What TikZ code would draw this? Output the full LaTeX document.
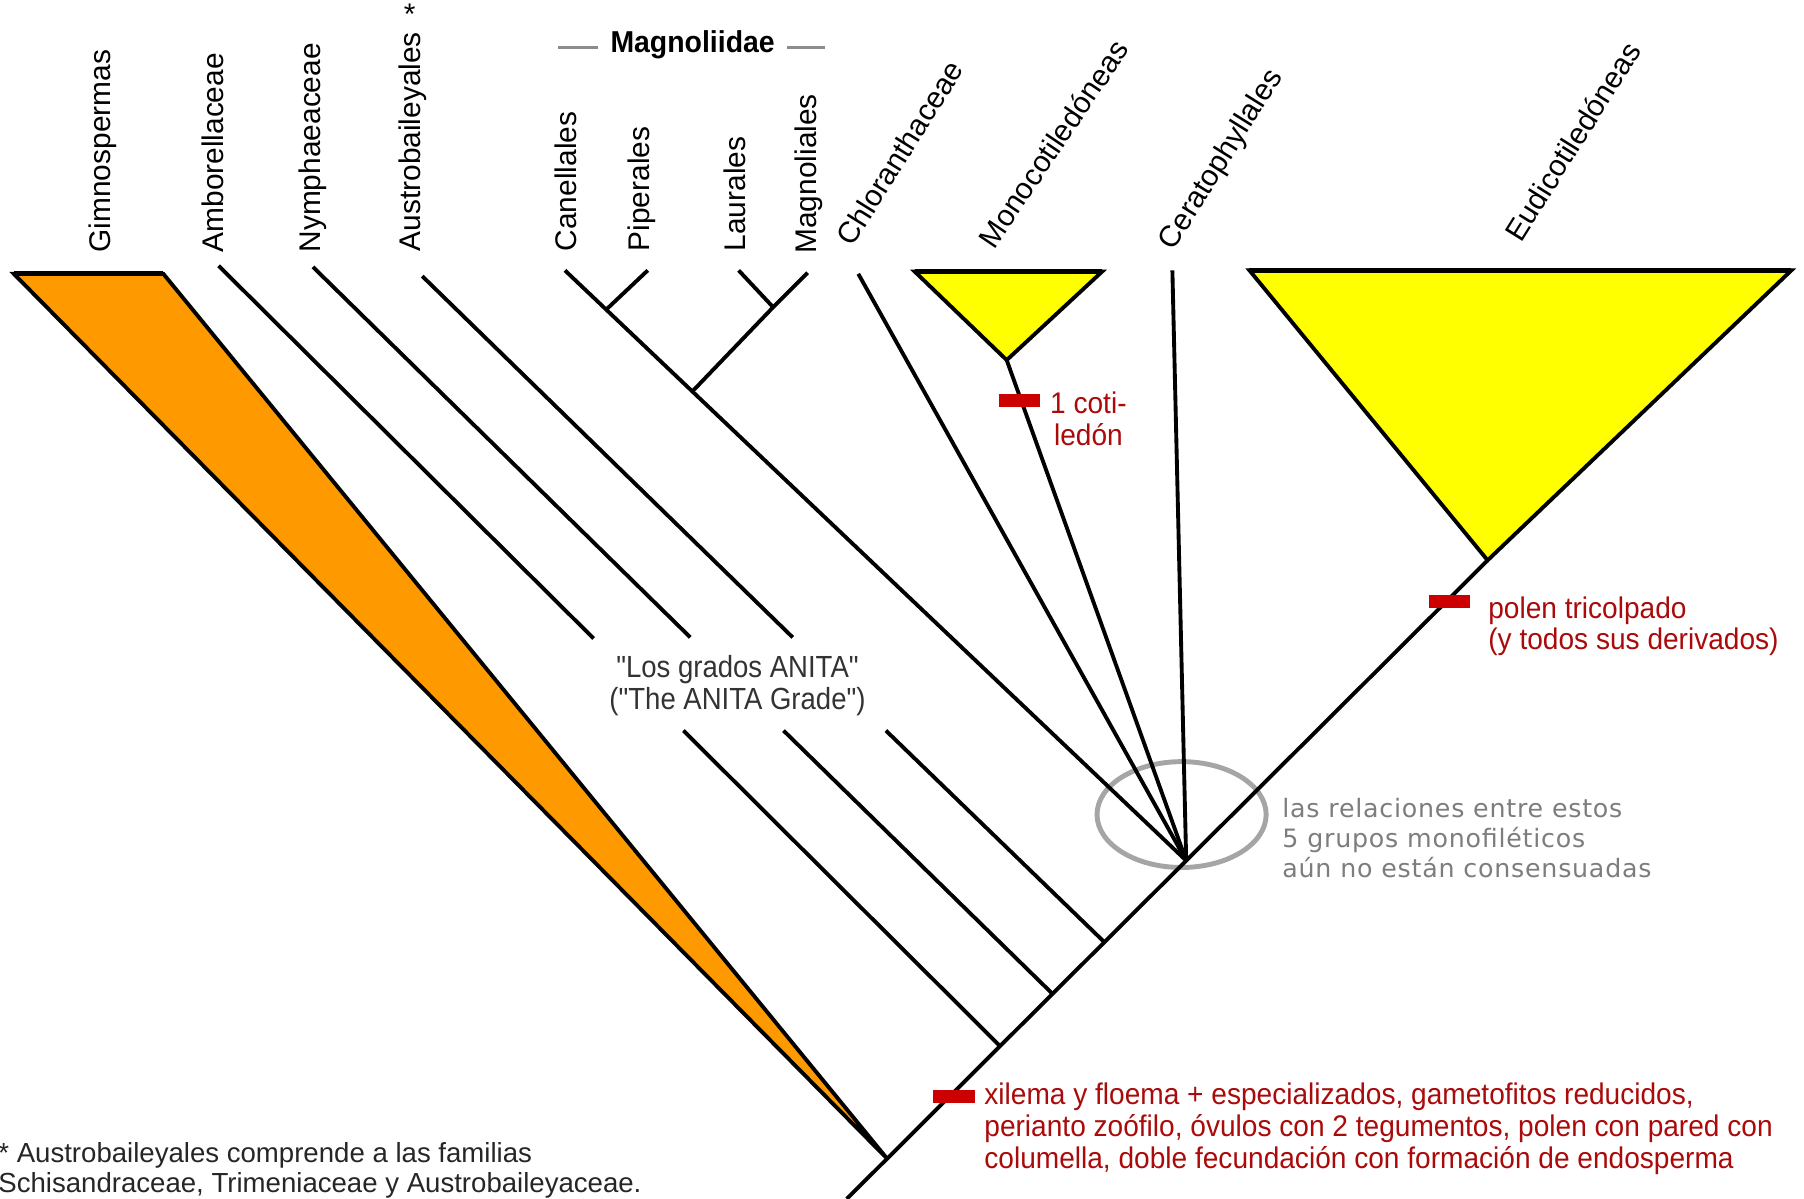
\documentclass[tikz,border=0pt]{standalone}
\usepackage{fontspec}
\setmainfont{Liberation Sans}
\newfontfamily\narrowfont[FakeStretch=0.94]{Liberation Sans}
\newfontfamily\anitafont[FakeStretch=0.9]{Liberation Sans}
\newfontfamily\widefont[LetterSpace=3]{DejaVu Sans}
\usetikzlibrary{calc}
\definecolor{gymno}{RGB}{255,153,0}
\definecolor{cladeyellow}{RGB}{255,255,0}
\definecolor{apored}{RGB}{204,0,0}
\definecolor{notered}{RGB}{170,10,10}
\definecolor{notegray}{RGB}{125,125,125}
\definecolor{ringgray}{RGB}{165,165,165}
\tikzset{
    branch/.style={draw, line width=1.1pt},
    cladetop/.style={draw, line width=1.5pt},
    magrule/.style={draw=black!45, line width=0.9pt},
    ring/.style={draw=ringgray, line width=1.4pt},
    taxon/.style={inner sep=0pt, font=\fontsize{8.5}{10}\selectfont},
    upright/.style={taxon, rotate=90, anchor=west},
    slanted/.style={taxon, rotate=#1, anchor=base west},
    slanted/.default=58,
    apo/.style={rectangle, fill=apored, inner sep=0pt, minimum width=11.8pt, minimum height=3.7pt},
    charnote/.style={inner sep=0pt, text=notered, align=left, font=\narrowfont\fontsize{8.5}{9}\selectfont}
}
\begin{document}
\begin{tikzpicture}[x=0.011505cm, y=-0.011505cm]
    \useasboundingbox (0,0) rectangle (1568,1042);
    % tips
    \coordinate (g1) at (12,238);
    \coordinate (g2) at (142,238);
    \coordinate (amb) at (190,231);
    \coordinate (nym) at (272,232);
    \coordinate (aus) at (367,240);
    \coordinate (can) at (491,235);
    \coordinate (pip) at (563,235);
    \coordinate (lau) at (642,235);
    \coordinate (mag) at (702,237);
    \coordinate (chl) at (746,238);
    \coordinate (mo1) at (795,236);
    \coordinate (mo2) at (958,236);
    \coordinate (cer) at (1019,235);
    \coordinate (eu1) at (1086,235);
    \coordinate (eu2) at (1557,235);
    % inner nodes
    \coordinate (cp) at (527,269);
    \coordinate (lm) at (672,267);
    \coordinate (mg) at (602,340);
    \coordinate (mo0) at (875,313);
    \coordinate (eu0) at (1293,487);
    \coordinate (r0) at (736,1042);
    \coordinate (n1) at (771,1007);
    \coordinate (n2) at (869,909);
    \coordinate (n3) at (915,864);
    \coordinate (n4) at (960,819);
    \coordinate (p) at (1031,748);
    % gap round the ANITA label
    \coordinate (ambu) at (516,555);
    \coordinate (ambl) at (594,635);
    \coordinate (nymu) at (600,554);
    \coordinate (nyml) at (681,635);
    \coordinate (ausu) at (689,554);
    \coordinate (ausl) at (770,635);
    \coordinate (ringc) at (1027,708);
    \coordinate (ml1) at (485,41);
    \coordinate (ml2) at (520,41);
    \coordinate (mr1) at (684,41);
    \coordinate (mr2) at (717,41);

    \draw[ring] (ringc) ellipse [x radius=73.5, y radius=46];
    \draw[branch, fill=gymno] (g1) -- (g2) -- (n1) -- cycle;
    \draw[cladetop] (g1) -- (g2);
    \draw[branch, fill=cladeyellow, line join=miter] (mo1) -- (mo2) -- (mo0) -- cycle;
    \draw[cladetop] (mo1) -- (mo2);
    \draw[branch, fill=cladeyellow, line join=miter] (eu1) -- (eu2) -- (eu0) -- cycle;
    \draw[cladetop] (eu1) -- (eu2);
    \draw[branch] (r0) -- (eu0);
    \draw[branch] (amb) -- (ambu);
    \draw[branch] (ambl) -- (n2);
    \draw[branch] (nym) -- (nymu);
    \draw[branch] (nyml) -- (n3);
    \draw[branch] (aus) -- (ausu);
    \draw[branch] (ausl) -- (n4);
    \draw[branch] (can) -- (p);
    \draw[branch] (pip) -- (cp);
    \draw[branch] (lau) -- (lm);
    \draw[branch] (mag) -- (lm) -- (mg);
    \draw[branch] (chl) -- (p);
    \draw[branch] (mo0) -- (p);
    \draw[branch] (cer) -- (p);
    \draw[magrule] (ml1) -- (ml2);
    \draw[magrule] (mr1) -- (mr2);

    \node[apo] (kxil) at (829,953) {};
    \node[apo] (kcot) at (886,348) {};
    \node[apo] (kpol) at (1260,523) {};

    \node[upright] (tgim) at (89,220) {Gimnospermas};
    \node[upright] (tamb) at (185,220) {Amborellaceae};
    \node[upright] (tnym) at (272,220) {Nymphaeaceae};
    \node[upright] (taus) at (359,219) {Austrobaileyales};
    \node[taxon] (tast) at (356,12) {*};
    \node[upright] (tcan) at (492,219) {Canellales};
    \node[upright] (tpip) at (558,219) {Piperales};
    \node[upright] (tlau) at (639,219) {Laurales};
    \node[upright] (tmag) at (703,221) {Magnoliales};
    \node[slanted=58] (tchl) at (741,216) {Chloranthaceae};
    \node[slanted=56] (tmon) at (864,218) {Monocotiledóneas};
    \node[slanted=58] (tcer) at (1020,219) {Ceratophyllales};
    \node[slanted=58] (teud) at (1322,212) {Eudicotiledóneas};
    \node[inner sep=0pt, anchor=base, font=\narrowfont\bfseries\fontsize{8.6}{10}\selectfont] (tmgd) at (602,46) {Magnoliidae};

    \node[inner sep=0pt, align=center, anchor=north, text=black!80, font=\anitafont\fontsize{8.7}{9}\selectfont] (tani) at (641,569) {"Los grados ANITA"\\("The ANITA Grade")};
    \node[charnote, align=center, anchor=north] (tcot) at (946,340) {1 coti-\\ledón};
    \node[charnote, anchor=north west] (tpol) at (1293,518) {polen tricolpado\\(y todos sus derivados)};
    \node[charnote, anchor=north west] (txil) at (855,941) {xilema y floema + especializados, gametofitos reducidos,\\perianto zoófilo, óvulos con 2 tegumentos, polen con pared con\\columella, doble fecundación con formación de endosperma};
    \node[inner sep=0pt, align=left, anchor=north west, text=notegray, font=\widefont\fontsize{7.2}{8.6}\selectfont] (trel) at (1114,693) {las relaciones entre estos\\5 grupos monofiléticos\\aún no están consensuadas};
    \node[inner sep=0pt, align=left, anchor=north west, text=black!85, font=\fontsize{7.85}{8.6}\selectfont] (tfoot) at (-2,992) {* Austrobaileyales comprende a las familias\\Schisandraceae, Trimeniaceae y Austrobaileyaceae.};
\end{tikzpicture}
\end{document}
